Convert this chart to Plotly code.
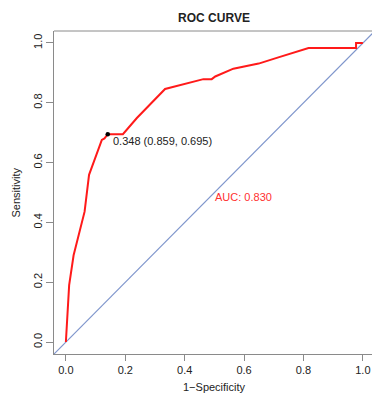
import plotly.graph_objects as go

# ROC curve points (x = 1 - specificity, y = sensitivity)
fpr = [0, 0.011, 0.026, 0.030, 0.063, 0.078, 0.121, 0.130, 0.141, 0.192, 0.239,
       0.334, 0.463, 0.491, 0.503, 0.564, 0.649, 0.710, 0.817, 0.977, 0.977, 1.0]
tpr = [0, 0.190, 0.290, 0.305, 0.436, 0.559, 0.676, 0.681, 0.695, 0.695, 0.749,
       0.846, 0.879, 0.879, 0.888, 0.914, 0.931, 0.950, 0.983, 0.983, 1.0, 1.0]
diag = [-0.04, 1.10]
best_x = [0.141]
best_y = [0.695]
best_label = "0.348 (0.859, 0.695)"
auc_label = "AUC: 0.830"
tick_vals = [0.0, 0.2, 0.4, 0.6, 0.8, 1.0]
tick_text = ["0.0", "0.2", "0.4", "0.6", "0.8", "1.0"]

FONT = "Liberation Sans, Arial, sans-serif"
GRAY = "#8a8a8a"

W, H = 372, 402
L, T = 54, 31
B = H - 354
PW, PH = W - L, H - T - B

fig = go.Figure()
fig.add_trace(go.Scatter(x=diag, y=diag, mode="lines",
                         line=dict(color="#7f96cc", width=1.2),
                         hoverinfo="skip", cliponaxis=True))
fig.add_trace(go.Scatter(x=fpr, y=tpr, mode="lines",
                         line=dict(color="#ff1a1a", width=2)))
fig.add_trace(go.Scatter(x=best_x, y=best_y, mode="markers",
                         marker=dict(color="black", size=4.5)))

fig.add_annotation(x=best_x[0], y=best_y[0], text=best_label, showarrow=False,
                   xanchor="left", yanchor="top", xshift=3, yshift=1,
                   font=dict(family=FONT, size=11, color="#222"))
fig.add_annotation(x=0.5, y=0.486, text=auc_label, showarrow=False,
                   xanchor="left", yanchor="middle", xshift=-1,
                   font=dict(family=FONT, size=11, color="#ff3030"))

# axis titles
fig.add_annotation(xref="paper", yref="paper", x=(15 - L) / PW, y=0.5,
                   text="Sensitivity", textangle=-90, showarrow=False,
                   xanchor="center", yanchor="middle",
                   font=dict(family=FONT, size=11, color="#222"))
fig.add_annotation(xref="paper", yref="paper", x=(214 - L) / PW,
                   y=-(387 - 354) / PH, text="1\u2212Specificity", showarrow=False,
                   xanchor="center", yanchor="middle",
                   font=dict(family=FONT, size=11, color="#222"))

# top border of the plot box (the right border lies outside the window)
fig.add_shape(type="line", xref="paper", yref="paper", x0=0, x1=1.02, y0=1, y1=1,
              line=dict(color=GRAY, width=1))

fig.update_layout(
    width=W, height=H,
    margin=dict(l=L, r=0, t=T, b=B, autoexpand=False),
    paper_bgcolor="white", plot_bgcolor="white",
    showlegend=False, hovermode=False,
    font=dict(family=FONT, size=11, color="#222"),
    title=dict(text="<b>ROC CURVE</b>", x=214 / W,
               xanchor="center", y=1 - 18 / H, yanchor="middle",
               font=dict(family=FONT, size=12, color="#222")),
    xaxis=dict(range=[-0.04, -0.04 + PW / 297], tickvals=tick_vals, ticktext=tick_text,
               showgrid=False, zeroline=False, showline=True, mirror=False,
               linecolor=GRAY, linewidth=1, ticks="outside", ticklen=6,
               tickcolor=GRAY, automargin=False, ticklabeloverflow="allow",
               showspikes=False,
               tickfont=dict(family=FONT, size=11, color="#222")),
    yaxis=dict(range=[-0.04, 1.04], tickvals=tick_vals, ticktext=tick_text,
               showgrid=False, zeroline=False, showline=True, mirror=False,
               linecolor=GRAY, linewidth=1, ticks="outside", ticklen=7,
               tickcolor=GRAY, tickangle=-90, automargin=False,
               ticklabeloverflow="allow", showspikes=False,
               tickfont=dict(family=FONT, size=11, color="#222")),
)

# remove the default page margin so the figure sits at the window's top-left corner
fig.write_html("out.html",
               config={"staticPlot": True, "displayModeBar": False},
               post_script="document.body.style.margin='0';"
                           "document.documentElement.style.overflow='hidden';")
